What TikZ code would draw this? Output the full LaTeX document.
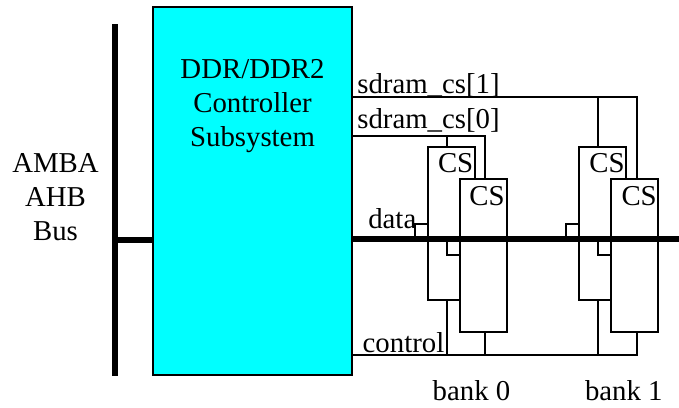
\documentclass[tikz,border=0pt]{standalone}
\usepackage{fontspec}
\setmainfont{Liberation Serif}
\definecolor{ctrlcyan}{RGB}{0,255,255}
\begin{document}
\begin{tikzpicture}[x=1pt,y=-1pt,
  wire/.style={draw=black,line width=1.7pt},
  bus/.style={draw=black,line width=6pt},
  chip/.style={draw=black,fill=white,line width=1.7pt,inner sep=0pt,outer sep=0pt,anchor=north west},
  lbl/.style={inner sep=0pt,outer sep=0pt,anchor=base west,text=black,font=\fontsize{28.8}{34}\selectfont},
  mlbl/.style={inner sep=0pt,outer sep=0pt,anchor=center,align=center,text=black,font=\fontsize{28.8}{34}\selectfont}]
\useasboundingbox (0,0) rectangle (679,407);
% controller and AHB bus
\node[draw=black,fill=ctrlcyan,line width=1.4pt,inner sep=0pt,outer sep=0pt,anchor=north west,minimum width=199pt,minimum height=368pt] (ctrl) at (153,7) {};
\coordinate (ahbtop) at (114.5,24);
\coordinate (ahbbot) at (114.5,376);
\coordinate (ahbtap) at (114.5,240);
\coordinate (dbusend) at (679,239);
\draw[bus] (ahbtop) -- (ahbbot);
\draw[bus] (ahbtap) -- (ctrl.west |- ahbtap);
% chips (positions)
\coordinate (cs1) at (ctrl.east |- 0,96.7);
\coordinate (cs0) at (ctrl.east |- 0,136);
\coordinate (ctl) at (ctrl.east |- 0,354.7);
\node[chip,minimum width=47.3pt,minimum height=153pt] (b0a) at (427.7,147.3) {};
\node[chip,minimum width=47.3pt,minimum height=153pt] (b1a) at (579,147.3) {};
% select lines
\draw[wire] (cs1) -- (636.7,96.7) -- (636.7,179);
\draw[wire] (598.3,96.7) -- (598.3,147.3);
\draw[wire] (cs0) -- (485.3,136) -- (485.3,179);
\draw[wire] (446.7,136) -- (446.7,147.3);
% control line
\draw[wire] (ctl) -- (636.7,354.7) -- (636.7,332.3);
\draw[wire] (446.7,354.7) -- (446.7,300.3);
\draw[wire] (485.3,354.7) -- (485.3,332.3);
\draw[wire] (598.3,354.7) -- (598.3,300.3);
% data stubs
\draw[wire] (b0a.west |- 0,224.3) -- (414.7,224.3) -- (414.7,239);
\draw[wire] (b1a.west |- 0,224.3) -- (566,224.3) -- (566,239);
% front chips
\node[chip,minimum width=46.7pt,minimum height=153.3pt] (b0b) at (460,179) {};
\node[chip,minimum width=47.3pt,minimum height=153.3pt] (b1b) at (611,179) {};
\draw[wire] (446.7,239) -- (446.7,255) -- (b0b.west |- 0,255);
\draw[wire] (598.3,239) -- (598.3,255) -- (b1b.west |- 0,255);
% data bus
\draw[bus] (ctrl.east |- dbusend) -- (dbusend);
% labels
\node[mlbl] (title) at (252.5,106) {DDR/DDR2\\Controller\\Subsystem};
\node[mlbl] (amba) at (55.5,197) {AMBA\\AHB\\Bus};
\node[lbl] (lcs1) at (357.3,93.3) {sdram\_cs[1]};
\node[lbl] (lcs0) at (357.3,128.8) {sdram\_cs[0]};
\node[lbl] (ldata) at (368.3,228.3) {data};
\node[lbl] (lctl) at (362.7,352.3) {control};
\node[lbl] (cs0a) at (438,172.7) {CS};
\node[lbl] (cs0b) at (469.3,205) {CS};
\node[lbl] (cs1a) at (589.3,172.7) {CS};
\node[lbl] (cs1b) at (621.5,205) {CS};
\node[lbl] (bank0) at (432.7,400.7) {bank 0};
\node[lbl] (bank1) at (585,400.7) {bank 1};
\end{tikzpicture}
\end{document}
